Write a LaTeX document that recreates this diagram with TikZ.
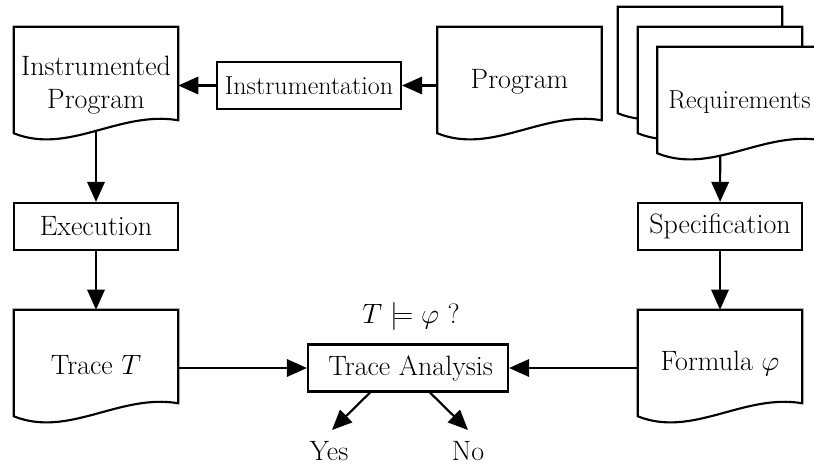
\RequirePackage{fix-cm}
\documentclass[tikz,border=0pt]{standalone}
\usepackage{amsmath}
\usetikzlibrary{arrows.meta}
\usetikzlibrary{calc}
\usetikzlibrary{backgrounds}

\newcommand{\bigtxt}{\fontsize{21}{25}\selectfont}
\newcommand{\smalltxt}{\fontsize{19.5}{23}\selectfont}
% wavy document outline round an (undrawn) node, #1 = vertical nudge
\newcommand{\docoutline}[2][0]{%
\draw [docline] ($(#2.north west)+(0,#1)$) -- ($(#2.north east)+(0,#1)$) -- ($(#2.south east)+(0,{#1-11})$) .. controls ($(#2.south east)+(-59,{#1-21})$) and ($(#2.south west)+(55,{#1+24})$) .. ($(#2.south west)+(0,{#1+2})$) -- cycle ;}

\tikzset{
  docline/.style={line width=1.6pt, fill=white},
  docnode/.style={minimum width=123pt, minimum height=78pt, inner sep=0pt, align=center, font=\bigtxt},
  procbox/.style={draw, line width=1.6pt, fill=white, minimum height=35.25pt, inner sep=0pt, font=\bigtxt},
  arr/.style={line width=1.6pt, -{Triangle[length=15pt,width=13pt]}},
}

\begin{document}
\begin{tikzpicture}[x=0.75pt,y=0.75pt,yscale=-1,xscale=1]
\useasboundingbox (0,0) rectangle (814,464);
% documents
\node [docnode] (iprog) at (96,85) {Instrumented\\Program};
\node [docnode] (program) at (519.5,82) {Program};
\node [docnode] (reqC) at (700,59) {};
\node [docnode] (reqB) at (720,79) {};
\node [docnode, font=\smalltxt] (req) at (739.5,102) {Requirements};
\node [docnode] (trace) at (96,365) {Trace $T$};
\node [docnode] (formula) at (720,364) {Formula $\varphi$};
\begin{scope}[on background layer]
\docoutline[-6]{iprog}
\docoutline[-3]{program}
\docoutline{reqC}
\docoutline{reqB}
\docoutline[-3]{req}
\docoutline[-3]{trace}
\docoutline[-2]{formula}
\end{scope}
% boxes
\node [procbox, minimum width=138pt, font=\smalltxt] (instr) at (309,85.5) {Instrumentation};
\node [procbox, minimum width=123pt] (exec) at (96,226.5) {Execution};
\node [procbox, minimum width=123pt] (spec) at (720,226.5) {Specification};
\node [procbox, minimum width=150pt] (ana) at (408,368) {\hspace{4pt}Trace Analysis};
\node [font=\bigtxt] (query) at (411,316) {$T \models \varphi$ ?};
\node [font=\bigtxt] (yes) at (329,451) {Yes};
\node [font=\bigtxt] (no) at (468,451) {No};
\coordinate (iprogout) at ($(iprog.south)+(0,-6)$);
\coordinate (reqout) at ($(req.south west)+(63,1)$);
\coordinate (tracein) at ($(trace.north)+(0,-3)$);
\coordinate (formulain) at ($(formula.north)+(0,-2)$);
\coordinate (yestip) at (332,430);
\coordinate (notip) at (468,430);
% connectors
\draw [arr] (program.west |- instr) -- (instr);
\draw [arr] (instr) -- (iprog.east |- instr);
\draw [arr] (iprogout) -- (exec);
\draw [arr] (exec) -- (tracein);
\draw [arr] (reqout) -- (spec);
\draw [arr] (spec) -- (formulain);
\draw [arr] (trace.east |- ana) -- (ana);
\draw [arr] (formula.west |- ana) -- (ana);
\draw [arr] ($(ana.south)+(-38,0)$) -- (yestip);
\draw [arr] ($(ana.south)+(22,0)$) -- (notip);
\end{tikzpicture}
\end{document}
